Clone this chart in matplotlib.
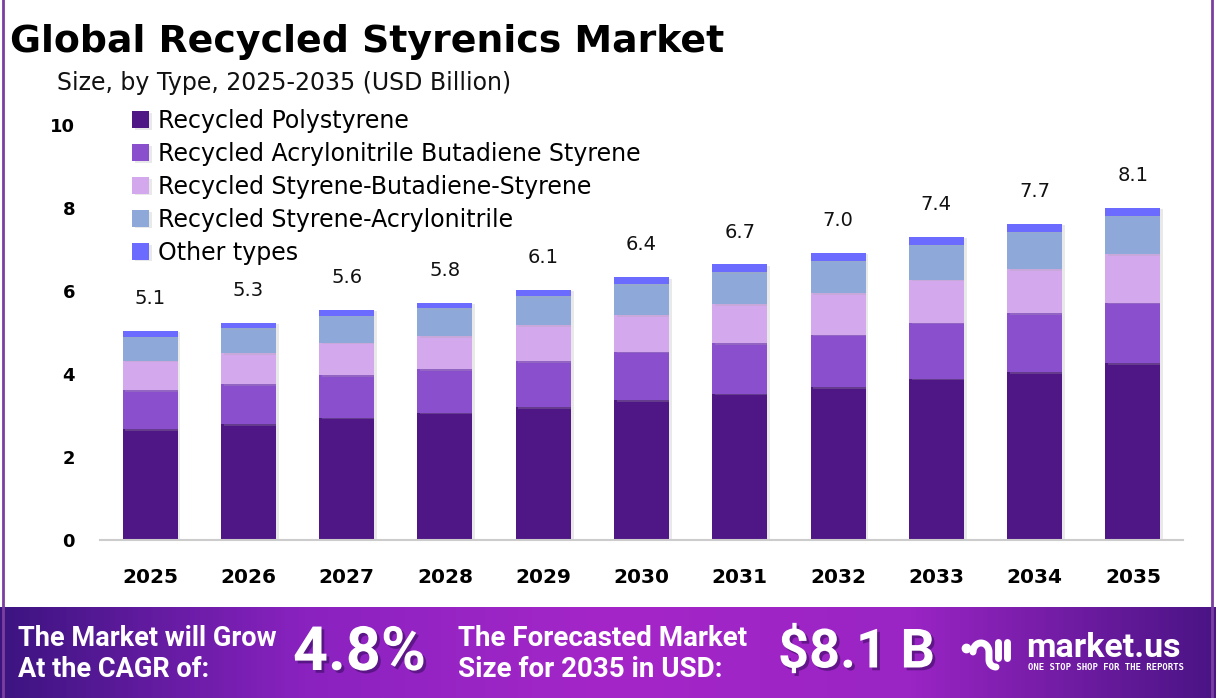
import matplotlib
matplotlib.use("Agg")
import matplotlib.pyplot as plt
import matplotlib.patheffects as pe
from matplotlib.colors import LinearSegmentedColormap
import numpy as np

# data (USD billion)
years = ["2025", "2026", "2027", "2028", "2029", "2030", "2031", "2032", "2033", "2034", "2035"]
polystyrene = [2.67, 2.79, 2.94, 3.06, 3.20, 3.37, 3.52, 3.68, 3.89, 4.04, 4.26]
abs_resin = [0.94, 0.96, 1.03, 1.05, 1.11, 1.16, 1.22, 1.27, 1.35, 1.42, 1.46]
sbs = [0.71, 0.75, 0.78, 0.80, 0.86, 0.88, 0.94, 0.99, 1.03, 1.06, 1.16]
san = [0.58, 0.60, 0.65, 0.67, 0.70, 0.75, 0.77, 0.79, 0.84, 0.91, 0.93]
other = [0.14, 0.14, 0.14, 0.14, 0.16, 0.17, 0.19, 0.19, 0.19, 0.19, 0.20]
totals = ["5.1", "5.3", "5.6", "5.8", "6.1", "6.4", "6.7", "7.0", "7.4", "7.7", "8.1"]

labels = ["Recycled Polystyrene", "Recycled Acrylonitrile Butadiene Styrene",
          "Recycled Styrene-Butadiene-Styrene", "Recycled Styrene-Acrylonitrile",
          "Other types"]
colors = ["#4f1785", "#8a4fcc", "#d3a8ec", "#8fa8da", "#6b6bff"]
series = [polystyrene, abs_resin, sbs, san, other]

plt.rcParams['font.family'] = ['DejaVu Sans']

fig = plt.figure(figsize=(12.16, 6.98), dpi=100)
ax = fig.add_axes([100 / 1216, 158 / 698, 1083 / 1216, 415 / 698])

x = np.arange(len(years))
bottom = np.zeros(len(years))
shadow = [pe.SimplePatchShadow(offset=(2, -1), shadow_rgbFace="#aaaaaa", alpha=0.25), pe.Normal()]
for vals, lab, col in zip(series, labels, colors):
    bars = ax.bar(x, vals, 0.56, bottom=bottom, color=col, label=lab, zorder=2)
    for b in bars:
        b.set_path_effects(shadow)
    bottom += np.array(vals)

for xi, top, t in zip(x, bottom, totals):
    ax.text(xi, top + 0.55, t, ha="center", va="bottom", fontsize=14, color="#111111")

ax.set_xlim(-0.51, 10.51)
ax.set_ylim(0, 10)
ax.set_yticks([0, 2, 4, 6, 8, 10])
ax.set_xticks(x)
ax.set_xticklabels(years, fontweight="bold", fontsize=14.5)
for lbl in ax.get_yticklabels():
    lbl.set_fontweight("bold")
    lbl.set_fontsize(13)
ax.tick_params(axis="both", length=0)
ax.tick_params(axis="y", pad=18)
ax.tick_params(axis="x", pad=20)
for s in ["top", "right", "left"]:
    ax.spines[s].set_visible(False)
ax.spines["bottom"].set_color("#cccccc")
ax.spines["bottom"].set_linewidth(1.5)

fig.legend(loc="upper left", bbox_to_anchor=(132 / 1216, 1 - 109 / 698), frameon=False,
           fontsize=17, handlelength=0.72, handleheight=0.72, handletextpad=0.4,
           labelspacing=0.38, borderpad=0, borderaxespad=0)

fig.text(10 / 1216, 1 - 42 / 698, "Global Recycled Styrenics Market", fontsize=27.3,
         fontweight="bold", va="center", ha="left")
fig.text(57 / 1216, 1 - 83 / 698, "Size, by Type, 2025-2035 (USD Billion)", fontsize=17,
         va="center", ha="left", color="#111111")

# purple side borders
fig.add_artist(plt.Line2D([3 / 1216, 3 / 1216], [0, 1], color="#7b3fa0", lw=2))
fig.add_artist(plt.Line2D([1212 / 1216, 1212 / 1216], [0, 1], color="#7b3fa0", lw=2))

# bottom banner with gradient
bax = fig.add_axes([0, 0, 1, 91 / 698])
cmap = LinearSegmentedColormap.from_list("banner", ["#3c1480", "#8a22c0", "#a526c8", "#9a24c4", "#4a1485"])
grad = np.linspace(0, 1, 512).reshape(1, -1)
bax.imshow(grad, aspect="auto", cmap=cmap, extent=[0, 1216, 0, 91])
bax.set_xlim(0, 1216)
bax.set_ylim(0, 91)
bax.axis("off")

txt_shadow = [pe.withSimplePatchShadow(offset=(2, -2), shadow_rgbFace="#2a0a50", alpha=0.5)]
bax.text(18, 44, "The Market will Grow\nAt the CAGR of:", color="white", fontsize=19.5,
         fontweight="bold", va="center", ha="left", linespacing=1.2, family=["Roboto"])
bax.text(293, 45, "4.8%", color="white", fontsize=44, fontweight="bold", va="center",
         ha="left", family=["Roboto"], path_effects=txt_shadow)
bax.text(458, 44, "The Forecasted Market\nSize for 2035 in USD:", color="white", fontsize=20,
         fontweight="bold", va="center", ha="left", linespacing=1.2, family=["Roboto"])
bax.text(778, 45, "$8.1 B", color="white", fontsize=39, fontweight="bold", va="center",
         ha="left", family=["Roboto"], path_effects=txt_shadow)

# market.us logo
bax.plot([966], [50], marker="o", color="white", ms=6)
t = np.linspace(np.pi, 0, 40)
arch_x = np.concatenate([981 + 8 * np.cos(t), [989, 989], 989 + 7 * (1 - np.cos(np.linspace(0, np.pi / 2, 10)))])
arch_y = np.concatenate([46 + 9 * np.sin(t), [46, 38], 38 - 7 * np.sin(np.linspace(0, np.pi / 2, 10))])
bax.plot(arch_x, arch_y, color="white", lw=5, solid_capstyle="round", solid_joinstyle="round")
bax.plot([998, 998], [40, 56], color="white", lw=5, solid_capstyle="round")
bax.plot([1007, 1007], [40, 56], color="white", lw=5, solid_capstyle="round")
bax.text(1026, 50, "market.us", color="white", fontsize=24.5, fontweight="bold",
         va="center", ha="left", family=["Roboto"])
bax.text(1028, 31, "ONE STOP SHOP FOR THE REPORTS", color="white", fontsize=6.5,
         fontweight="bold", va="center", ha="left", family=["DejaVu Sans Mono"])

fig.savefig("out.png", dpi=100)
